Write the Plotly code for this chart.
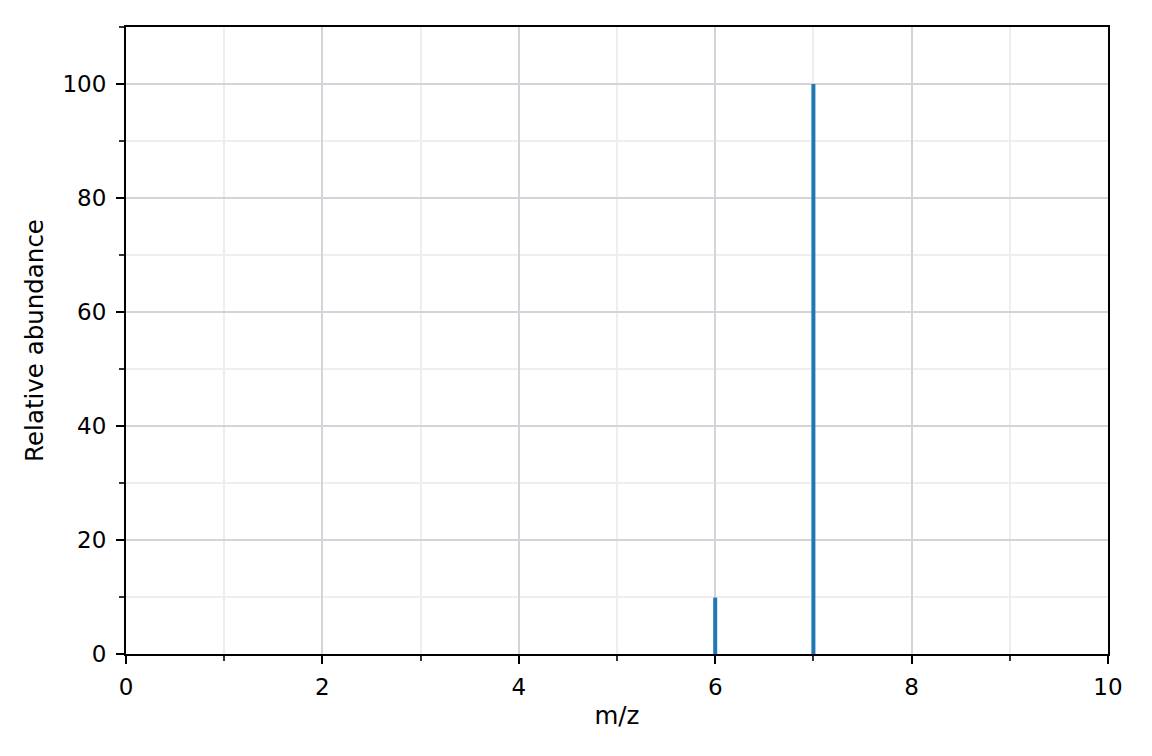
import plotly.graph_objects as go

# Spectrum peaks
mz = [6, 7]
abundance = [9.9, 100]

x_ticks = [0, 2, 4, 6, 8, 10]
y_ticks = [0, 20, 40, 60, 80, 100]

# stick lines: one segment per peak
xs, ys = [], []
for m, a in zip(mz, abundance):
    xs += [m, m, None]
    ys += [0, a, None]

fig = go.Figure()
fig.add_trace(go.Scatter(x=xs, y=ys, mode='lines', line=dict(color='#1f77b4', width=4),
                         showlegend=False, hoverinfo='skip'))

font = dict(family='DejaVu Sans', size=23, color='black')
title_font = dict(family='DejaVu Sans', size=24.5, color='black')
# page has an 8px body margin, so the figure is sized to fit the window
fig.update_layout(
    width=1136, height=740,
    margin={'l': 118, 'r': 36, 't': 19, 'b': 94},
    plot_bgcolor='white', paper_bgcolor='white',
    font=font,
)
fig.update_xaxes(
    range=[0, 10], tickvals=x_ticks, ticktext=[str(v) for v in x_ticks],
    title=dict(text='m/z', font=title_font, standoff=8),
    showline=True, linecolor='black', linewidth=2, mirror=True,
    ticks='outside', ticklen=8, tickwidth=2, tickcolor='black', ticklabelstandoff=3,
    showgrid=True, gridcolor='#d3d3da', gridwidth=1.5,
    minor=dict(dtick=1, showgrid=True, gridcolor='#eeeef2', gridwidth=1.5,
               ticks='outside', ticklen=5, tickwidth=1.5, tickcolor='#333'),
    zeroline=False,
)
fig.update_yaxes(
    range=[0, 110], tickvals=y_ticks, ticktext=[str(v) for v in y_ticks],
    title=dict(text='Relative abundance', font=title_font, standoff=12),
    showline=True, linecolor='black', linewidth=2, mirror=True,
    ticks='outside', ticklen=8, tickwidth=2, tickcolor='black', ticklabelstandoff=5,
    showgrid=True, gridcolor='#d3d3da', gridwidth=1.5,
    minor=dict(tick0=0, dtick=10, showgrid=True, gridcolor='#eeeef2', gridwidth=1.5,
               ticks='outside', ticklen=5, tickwidth=1.5, tickcolor='#333'),
    zeroline=False,
)

fig.write_html('out.html')
